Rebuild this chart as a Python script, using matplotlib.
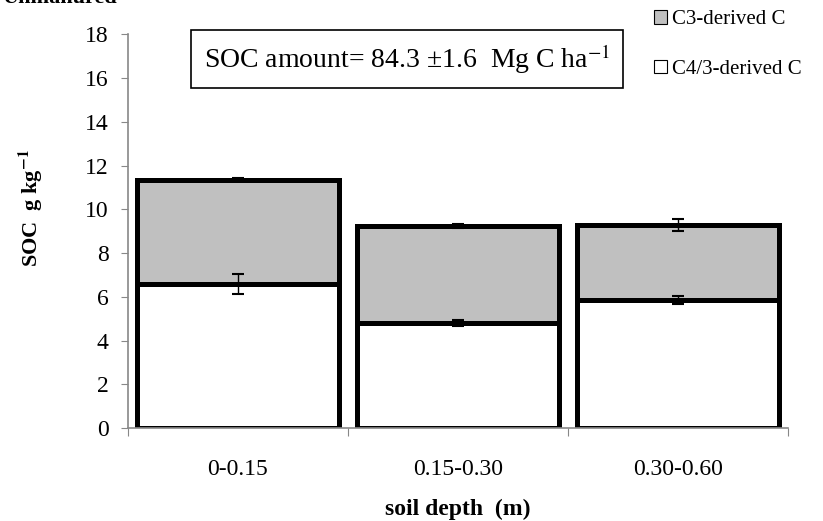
import matplotlib
matplotlib.use("Agg")
import matplotlib.pyplot as plt
from matplotlib.patches import Patch
import numpy as np

################################################################################
# Data
################################################################################
depths          = ["0-0.15", "0.15-0.30", "0.30-0.60"]
c43_derived     = [6.6, 4.8, 5.85]          # lower segment
c43_err         = [0.45, 0.15, 0.2]
c3_derived      = [4.75, 4.45, 3.45]        # upper segment
total_err       = [0.07, 0.1, 0.28]
soc_text        = "SOC amount= 84.3 \u00b11.6  Mg C ha$^{-1}$"

################################################################################
# Style
################################################################################
plt.rcParams["font.family"]      = ["Liberation Serif", "DejaVu Serif"]
plt.rcParams["mathtext.fontset"] = "stix"

AXIS_GRAY   = "#888888"
C3_COLOR    = "#c0c0c0"
EDGE_W      = 3.6

################################################################################
# Plot
################################################################################
fig = plt.figure(figsize=(8.23, 5.21), dpi=100)
ax  = fig.add_axes([0.1555, 0.1785, 0.802, 0.7553])

x       = np.arange(len(depths))
lower   = np.array(c43_derived)
upper   = np.array(c3_derived)
totals  = lower + upper

ax.bar(x, lower, width=0.92, color="white", edgecolor="black",
       linewidth=EDGE_W, zorder=2)
ax.bar(x, upper, bottom=lower, width=0.92, color=C3_COLOR, edgecolor="black",
       linewidth=EDGE_W, zorder=2)

ax.errorbar(x, lower, yerr=c43_err, fmt="none", ecolor="black",
            elinewidth=1.0, capsize=4, capthick=1.5, zorder=3)
ax.errorbar(x, totals, yerr=total_err, fmt="none", ecolor="black",
            elinewidth=1.0, capsize=4, capthick=1.5, zorder=3)

ax.set_xlim(-0.5, len(depths) - 0.5)
ax.set_ylim(0, 18)
ax.set_yticks(np.arange(0, 19, 2))

# category boundaries as major ticks, labels on minor ticks
ax.set_xticks(np.arange(-0.5, len(depths), 1.0))
ax.set_xticklabels([])
ax.set_xticks(x, minor=True)
ax.set_xticklabels(depths, minor=True)
ax.tick_params(axis="x", which="minor", length=0, labelsize=17, pad=22)
ax.tick_params(axis="x", which="major", length=6, color=AXIS_GRAY)
ax.tick_params(axis="y", length=5, color=AXIS_GRAY, labelsize=17, pad=9)

for side in ["top", "right"]:
    ax.spines[side].set_visible(False)
for side in ["left", "bottom"]:
    ax.spines[side].set_color(AXIS_GRAY)
    ax.spines[side].set_linewidth(1.2)

ax.set_xlabel("soil depth  (m)", fontsize=17, fontweight="bold", labelpad=14)
ax.set_ylabel("SOC  g kg$^{\\mathbf{-1}}$", fontsize=16, fontweight="bold")
ax.yaxis.set_label_coords(-0.125, 0.56)

ax.text(0.423, 0.938, soc_text, transform=ax.transAxes, fontsize=20,
        ha="center", va="center",
        bbox=dict(boxstyle="square,pad=0.45", facecolor="white",
                  edgecolor="black", linewidth=1.2))

handles = [
    Patch(facecolor=C3_COLOR, edgecolor="black", linewidth=0.8,
          label="C3-derived C"),
    Patch(facecolor="white", edgecolor="black", linewidth=0.8,
          label="C4/3-derived C")]
fig.legend(handles=handles, loc="upper left", bbox_to_anchor=(0.795, 0.98),
           frameon=False, fontsize=15, handlelength=0.6, handleheight=0.6,
           handletextpad=0.25, labelspacing=1.45, borderpad=0,
           borderaxespad=0)

# partially cut panel title at the top edge
fig.text(0.142, 0.994, "Unmanured", fontsize=16, fontweight="bold",
         ha="right", va="baseline")

fig.savefig("out.png", dpi=100)
